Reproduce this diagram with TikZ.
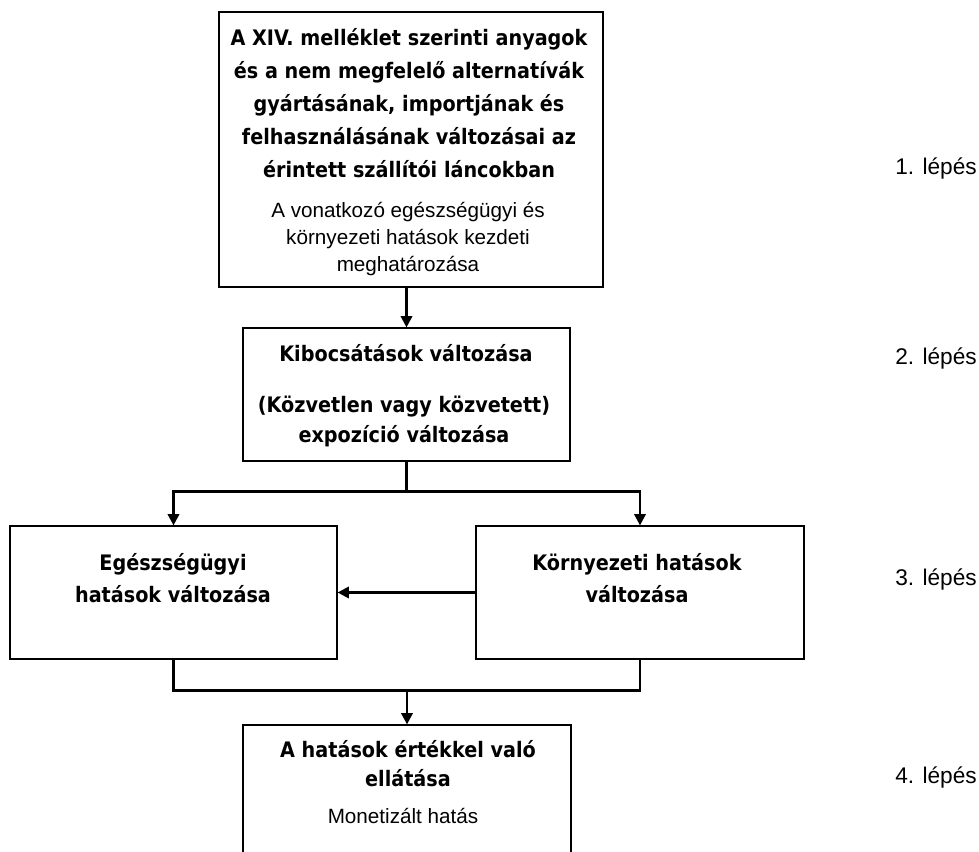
\documentclass[tikz,border=0pt]{standalone}
\usepackage{fontspec}
\newfontfamily\hdfont[FakeStretch=0.9]{DejaVu Sans}
\newfontfamily\txtfont{Liberation Sans}
\usetikzlibrary{arrows.meta}
\begin{document}
\begin{tikzpicture}[x=0.75pt,y=-0.75pt,
  box/.style={draw, line width=0.9pt, inner sep=0pt},
  flow/.style={line width=1.9pt},
  arrow/.style={flow, -{Triangle[length=8.5pt,width=8.5pt]}},
  hd/.style={anchor=base, inner sep=0pt, font=\hdfont\bfseries\fontsize{16}{19}\selectfont},
  txt/.style={anchor=base, inner sep=0pt, font=\txtfont\fontsize{15.5}{18}\selectfont},
  steplabel/.style={anchor=base east, inner sep=0pt, font=\txtfont\fontsize{17}{20}\selectfont}]

\useasboundingbox (0,0) rectangle (979,852);
\clip (0,0) rectangle (979,852);

% boxes
\node[box, minimum width=384*0.75pt, minimum height=275*0.75pt] (src) at (411,149.5) {};
\node[box, minimum width=327*0.75pt, minimum height=133*0.75pt] (emis) at (406.5,394.5) {};
\node[box, minimum width=327*0.75pt, minimum height=133*0.75pt] (health) at (173.5,592.5) {};
\node[box, minimum width=328*0.75pt, minimum height=133*0.75pt] (env) at (640,592.5) {};
\node[box, minimum width=328*0.75pt, minimum height=175*0.75pt] (value) at (407,812.5) {};

% box texts
\node[hd] (s1) at (409,46) {A XIV. melléklet szerinti anyagok};
\node[hd] (s2) at (409,79) {és a nem megfelelő alternatívák};
\node[hd] (s3) at (409,112) {gyártásának, importjának és};
\node[hd] (s4) at (409,145) {felhasználásának változásai az};
\node[hd] (s5) at (409,178) {érintett szállítói láncokban};
\node[txt] (s6) at (408,218) {A vonatkozó egészségügyi és};
\node[txt] (s7) at (408,245) {környezeti hatások kezdeti};
\node[txt] (s8) at (408,272) {meghatározása};

\node[hd] (e1) at (406,362) {Kibocsátások változása};
\node[hd] (e2) at (404,412) {(Közvetlen vagy közvetett)};
\node[hd] (e3) at (404,443) {expozíció változása};

\node[hd] (h1) at (173,570) {Egészségügyi};
\node[hd] (h2) at (173,602) {hatások változása};
\node[hd] (n1) at (637,570) {Környezeti hatások};
\node[hd] (n2) at (637,602) {változása};

\node[hd] (v1) at (408,757) {A hatások értékkel való};
\node[hd] (v2) at (408,786) {ellátása};
\node[txt] (v3) at (403,823) {Monetizált hatás};

% step labels
\node[steplabel] (l1) at (977,175) {1. lépés};
\node[steplabel] (l2) at (977,365) {2. lépés};
\node[steplabel] (l3) at (977,585) {3. lépés};
\node[steplabel] (l4) at (977,783) {4. lépés};

% connectors
\draw[arrow] (src.south -| emis.north) -- (emis.north);
\draw[flow] (emis.south) -- ++(0,30) coordinate (fork);
\draw[arrow] (fork) -| (health.north);
\draw[arrow] (fork) -| (env.north);
\draw[arrow] (env.west) -- (health.east);
\draw[flow] (health.south) -- ++(0,31) -| (env.south);
\coordinate (merge) at (value.north |- 0,690);
\draw[arrow] (merge) -- (value.north);
\end{tikzpicture}
\end{document}
